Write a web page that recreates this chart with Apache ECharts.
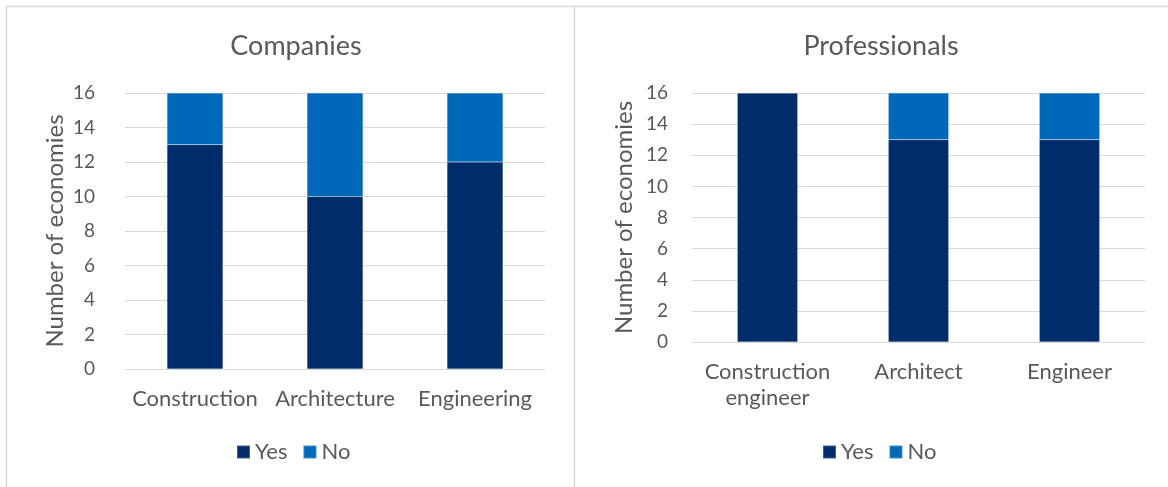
<!DOCTYPE html>
<html>
<head>
<meta charset="utf-8">
<script src="https://cdn.jsdelivr.net/npm/echarts@6/dist/echarts.min.js"></script>
<style>
html,body{margin:0;padding:0;background:#fff;}
#c{width:1168px;height:487px;}
</style>
</head>
<body>
<div id="c"></div>
<script>
const companyCategories = ['Construction', 'Architecture', 'Engineering'];
const companyYes = [13, 10, 12];
const companyNo = [3, 6, 4];

const professionalCategories = ['Construction\nengineer', 'Architect', 'Engineer'];
const professionalYes = [16, 13, 13];
const professionalNo = [0, 3, 3];

const yTicks = { min: 0, max: 16, interval: 2 };
const titles = ['Companies', 'Professionals'];
const yAxisName = 'Number of economies';
const seriesNames = ['Yes', 'No'];

const FONT = 'Lato';
const TXT = '#595959';
const GRID = '#d9d9d9';
const C_YES = '#002D6A';
const C_NO = '#0068B8';

const chart = echarts.init(document.getElementById('c'));

function yAxis(gridIndex, nameGap, margin) {
  return {
    type: 'value', gridIndex,
    min: yTicks.min, max: yTicks.max, interval: yTicks.interval,
    name: yAxisName, nameLocation: 'middle', nameGap,
    nameTextStyle: { fontFamily: FONT, fontSize: 24, color: TXT },
    axisLabel: { fontFamily: FONT, fontSize: 19, color: TXT, margin },
    axisLine: { show: false }, axisTick: { show: false },
    splitLine: { lineStyle: { color: GRID, width: 1 } }
  };
}
function xAxis(gridIndex, data, margin) {
  return {
    type: 'category', gridIndex, data,
    axisLabel: { fontFamily: FONT, fontSize: 22, color: TXT, margin, lineHeight: 26, interval: 0 },
    axisLine: { lineStyle: { color: GRID, width: 1 } },
    axisTick: { show: false }
  };
}
function bar(name, idx, data, color) {
  return {
    name, type: 'bar', stack: 's' + idx, xAxisIndex: idx, yAxisIndex: idx,
    data, barWidth: '40%',
    itemStyle: { color, borderColor: 'rgba(255,255,255,0.25)', borderWidth: 0.5 },
    emphasis: { disabled: true }
  };
}
function legend(left) {
  return { data: seriesNames, left, top: 441, padding: 0, itemWidth: 13, itemHeight: 13, itemGap: 15,
    icon: 'rect', textStyle: { fontFamily: FONT, fontSize: 22, color: TXT, padding: [0, 0, 0, 0] } };
}

chart.setOption({
  animation: false,
  textStyle: { fontFamily: FONT },
  color: [C_YES, C_NO],
  graphic: [
    { type: 'line', shape: { x1: 6.5, y1: 6.5, x2: 1168, y2: 6.5 }, style: { stroke: GRID, lineWidth: 1.5 } },
    { type: 'line', shape: { x1: 6.5, y1: 6.5, x2: 6.5, y2: 487 }, style: { stroke: GRID, lineWidth: 1.5 } },
    { type: 'line', shape: { x1: 574.5, y1: 6.5, x2: 574.5, y2: 487 }, style: { stroke: GRID, lineWidth: 1.5 } }
  ],
  title: [
    { text: titles[0], left: 291, top: 28, textAlign: 'center',
      textStyle: { fontFamily: FONT, fontSize: 27, fontWeight: 'normal', color: TXT } },
    { text: titles[1], left: 876, top: 28, textAlign: 'center',
      textStyle: { fontFamily: FONT, fontSize: 27, fontWeight: 'normal', color: TXT } }
  ],
  legend: [legend(236), legend(822)],
  grid: [
    { left: 125, top: 93, width: 420, height: 276 },
    { left: 692, top: 93, width: 453, height: 249 }
  ],
  xAxis: [xAxis(0, companyCategories, 17), xAxis(1, professionalCategories, 17)],
  yAxis: [yAxis(0, 58, 30), yAxis(1, 56, 24)],
  series: [
    bar(seriesNames[0], 0, companyYes, C_YES),
    bar(seriesNames[1], 0, companyNo, C_NO),
    bar(seriesNames[0], 1, professionalYes, C_YES),
    bar(seriesNames[1], 1, professionalNo, C_NO)
  ]
});
</script>
</body>
</html>
